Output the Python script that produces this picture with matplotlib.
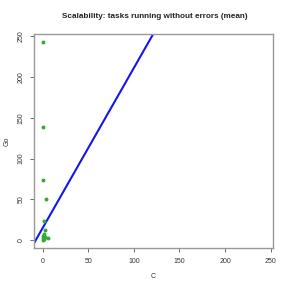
import numpy as np
import matplotlib
matplotlib.use('Agg')
import matplotlib.pyplot as plt

# mean tasks running without errors, C vs Go
c_vals = [0, 0, 0, 4, 1, 2, 1, 0, 0, 1, 6, 0, 2]
go_vals = [243, 139, 74, 50, 23, 12, 8, 5, 2, 1, 2, 0, 4]

# fitted line Go = a + b * C
fit_a, fit_b = 15.2, 1.96

ticks = [0, 50, 100, 150, 200, 250]
lims = (-9.7, 252.7)

plt.rcParams['font.family'] = ['Liberation Sans', 'DejaVu Sans']

fig = plt.figure(figsize=(2.91, 2.91), dpi=100)
ax = fig.add_axes([34 / 291, 43 / 291, 239 / 291, 214 / 291])

ax.scatter(c_vals, go_vals, s=8, color='#33aa33', linewidths=0, zorder=3)
xx = np.array(lims)
ax.plot(xx, fit_a + fit_b * xx, color='#1515ee', lw=1.5, zorder=2)

ax.set_xlim(lims)
ax.set_ylim(lims)
ax.set_xticks(ticks)
ax.set_yticks(ticks)
ax.tick_params(length=3, width=0.6, color='#555555', labelsize=5, pad=4,
               labelcolor='#333333')
for lab in ax.get_yticklabels():
    lab.set_rotation(90)
    lab.set_va('center')
for sp in ax.spines.values():
    sp.set_color('#999999')
    sp.set_linewidth(1.0)

fig.text(0.532, 1 - 17 / 291, 'Scalability: tasks running without errors (mean)',
         ha='center', va='center', fontsize=5.9, fontweight='bold', color='#222222')
fig.text(153 / 291, 1 - 277 / 291, 'C', ha='center', va='center', fontsize=5,
         color='#333333')
fig.text(7 / 291, 1 - 141 / 291, 'Go', ha='center', va='center', rotation=90,
         fontsize=5, color='#333333')

fig.savefig('out.png', dpi=100)
